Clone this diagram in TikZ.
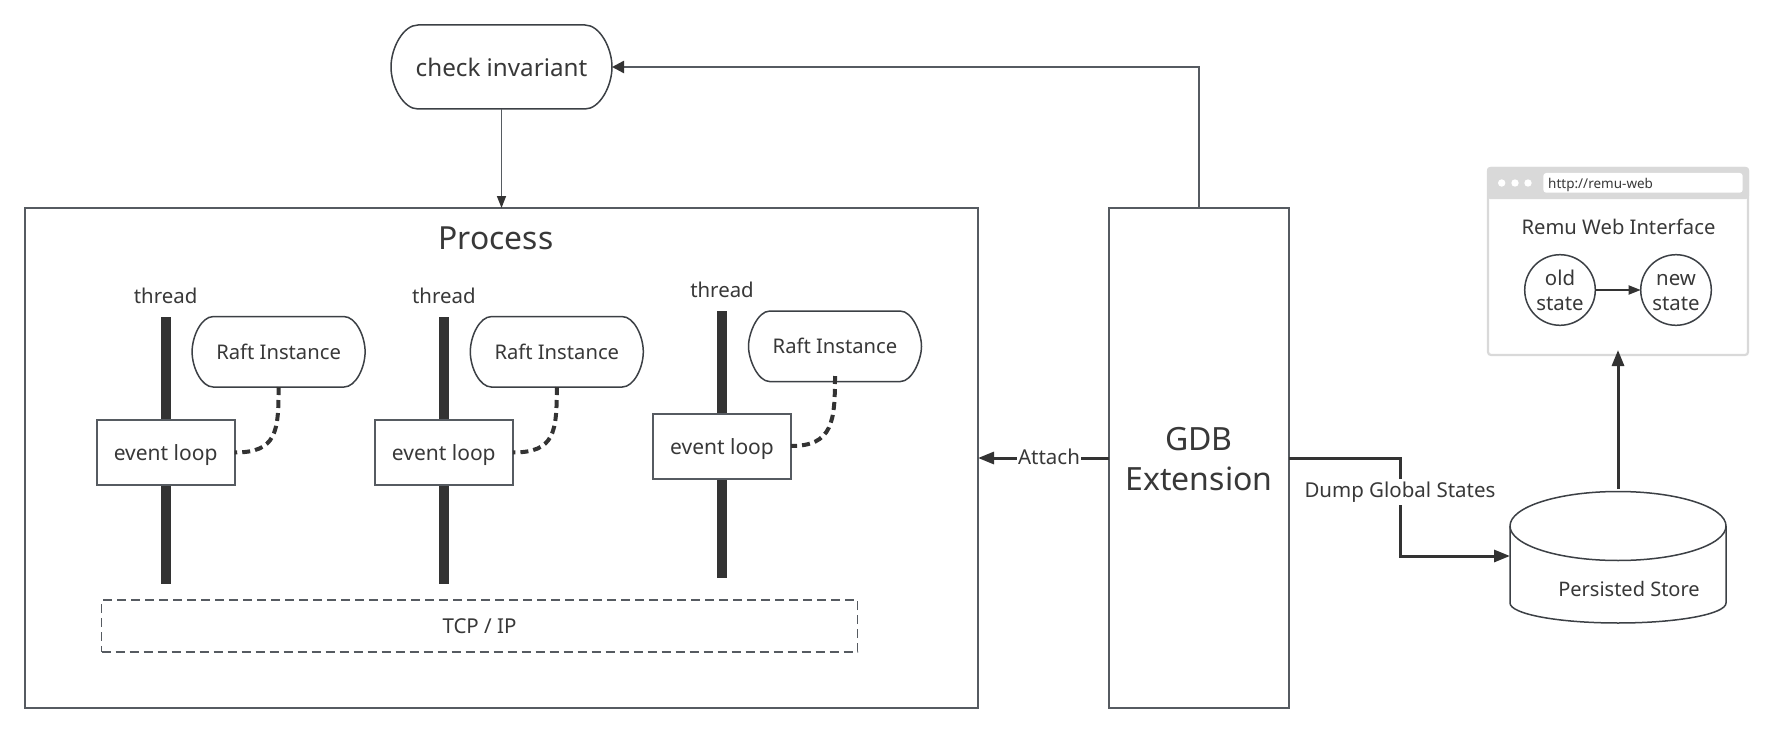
\documentclass[tikz,border=0pt]{standalone}
\usepackage{fontspec}
\setmainfont{Noto Sans}
\usetikzlibrary{arrows.meta,calc}
\definecolor{edgec}{HTML}{565B61}
\definecolor{pillc}{HTML}{3C4045}
\definecolor{inkc}{HTML}{333333}
\definecolor{txtc}{HTML}{383838}
\definecolor{webc}{HTML}{D9D9D9}
\newcommand{\fs}[1]{\fontsize{#1}{#1}\selectfont}
% \pillbox{name}{x1}{y1}{x2}{y2}{rx}{text}
\newcommand{\pillbox}[7]{%
  \pgfmathsetmacro{\ry}{(#5-#3)/2}%
  \pgfmathsetmacro{\cx}{(#2+#4)/2}%
  \pgfmathsetmacro{\cy}{(#3+#5)/2}%
  \pgfmathsetmacro{\kx}{#6*0.45}%
  \pgfmathsetmacro{\ky}{\ry*0.45}%
  \draw[pillline] (#2+#6,#3) -- (#4-#6,#3)
    .. controls (#4-\kx,#3) and (#4,\cy-\ky) .. (#4,\cy)
    .. controls (#4,\cy+\ky) and (#4-\kx,#5) .. (#4-#6,#5)
    -- (#2+#6,#5)
    .. controls (#2+\kx,#5) and (#2,\cy+\ky) .. (#2,\cy)
    .. controls (#2,\cy-\ky) and (#2+\kx,#3) .. cycle;
  \node[boxtext, minimum width={(#4-#2)*1pt}, minimum height={(#5-#3)*1pt}] (#1) at (\cx,\cy) {\fs{20.2}#7};
}
\tikzset{
  pillline/.style={draw=pillc,line width=1.5pt,fill=white},
  boxtext/.style={text=txtc,inner sep=0pt,outer sep=0pt},
  plainbox/.style={draw=edgec,line width=2pt,fill=white,text=txtc,inner sep=0pt,outer sep=0pt},
  bar/.style={fill=inkc,minimum width=10pt,inner sep=0pt,outer sep=0pt},
  label/.style={text=txtc,inner sep=0pt},
  dashlink/.style={draw=inkc,line width=4pt,dash pattern=on 8pt off 5pt},
  headA/.style={-{Triangle[length=16pt,width=12pt]},draw=inkc,line width=3pt},
  headB/.style={-{Triangle[length=12pt,width=9pt,color=inkc]},draw=edgec,line width=1.5pt},
  headC/.style={-{Triangle[length=12pt,width=12pt,color=inkc]},draw=edgec,line width=2.4pt},
  statenode/.style={draw=pillc,line width=1.5pt,circle,minimum size=70.6pt,inner sep=0pt,outer sep=0pt,text=txtc,align=center,fill=white},
}
\begin{document}
\begin{tikzpicture}[x=1pt,y=-1pt]
\useasboundingbox (0,0) rectangle (1773,733);
% check invariant
\pillbox{check}{391}{25}{612}{109}{27}{\fs{24.2}check invariant}
% process
\node[plainbox,minimum width=953pt,minimum height=500pt] (process) at (501.5,458) {};
\node[label] (ptitle) at (496,238) {\fs{31.8}Process};
% threads
\foreach \n/\x/\dy/\dev in {a/165.6/0/0,b/443.8/0/0,c/722/-5.5/-6.5}{
  \node[bar,minimum height=267pt] (bar\n) at (\x,450+\dy) {};
  \node[label] (thr\n) at (\x,295.5+\dy) {\fs{20.4}thread};
  \node[plainbox,minimum width=138pt,minimum height=65pt,text height=16pt,text depth=0pt] (ev\n) at (\x,452.5+\dev) {\fs{21}event loop};
  \pillbox{raft\n}{\x+26.5}{316.6+\dy}{\x+199.5}{387+\dy}{21}{Raft Instance}
  \draw[dashlink] (raft\n.south) .. controls ($(raft\n.south)+(0,45)$) and ($(ev\n.east)+(42,0)$) .. (ev\n.east);
}
% tcp
\node[draw=edgec,line width=1.6pt,dash pattern=on 9pt off 5pt,minimum width=756pt,minimum height=52pt,text=txtc,inner sep=0pt] (tcp) at (479.5,626) {\fs{20.5}TCP / IP};
% GDB
\node[plainbox,minimum width=180pt,minimum height=500pt] (gdb) at (1199,458) {};
\node[label] (gdba) at (1199,439) {\fs{32}GDB};
\node[label] (gdbb) at (1199,478.5) {\fs{32}Extension};
% store
\draw[pillline] (1510,526) -- (1510,603) .. controls (1510,614) and (1558,623) .. (1618,623) .. controls (1678,623) and (1726,614) .. (1726,603) -- (1726,526);
\draw[pillline] (1618,526) ellipse [x radius=108,y radius=34.5];
\node[minimum width=216pt,minimum height=131pt,inner sep=0pt,outer sep=0pt] (store) at (1618,557) {};
\node[label] (storet) at (1629,589) {\fs{20}Persisted Store};
% browser
\fill[webc,rounded corners=3pt] (1487,167) rectangle (1749,199);
\node[draw=webc,line width=2.2pt,rounded corners=3pt,minimum width=260pt,minimum height=187pt,inner sep=0pt,outer sep=1pt] (web) at (1618,261.5) {};
\fill[white,rounded corners=3pt] (1543.3,173) rectangle (1742.7,192.7);
\foreach \x in {1501.7,1515,1528}{\fill[white] (\x,183) circle (3.7);}
\node[label,anchor=west] (url) at (1548,184.5) {\fs{13.5}http://remu-web};
\node[label] (webt) at (1618.5,227) {\fs{20.2}Remu Web Interface};
\node[statenode] (old) at (1560,290) {\rule{0pt}{16pt}\fs{20.4}old\\[11pt]\fs{20.4}state};
\node[statenode] (new) at (1676,290) {\rule{0pt}{16pt}\fs{20.4}new\\[11pt]\fs{20.4}state};
% connectors
\draw[-{Triangle[length=12pt,width=9pt]},draw=inkc,line width=1.8pt] (old) -- (new);
\draw[headB] (check.south) -- (check.south |- process.north);
\draw[headC] (gdb.north) |- (check.east);
\coordinate (attachY) at (1049,458);
\draw[headA] (gdb.west |- attachY) -- (process.east |- attachY);
\node[label,fill=white,inner xsep=1pt,inner ysep=3pt] (attach) at (1049,457) {\fs{20.5}Attach};
\coordinate (dumpM) at (1400,458);
\coordinate (dumpE) at (1510,556);
\draw[headA] (gdb.east |- dumpM) -- (dumpM) |- (store.west |- dumpE);
\node[label,fill=white,inner xsep=0pt,inner ysep=3pt] (dump) at (1400,492) {\fs{20.5}Dump Global States};
\coordinate (upS) at (1618,489);
\draw[headA] (upS) -- ($(web.south -| upS)+(0,-6)$);
\end{tikzpicture}
\end{document}
